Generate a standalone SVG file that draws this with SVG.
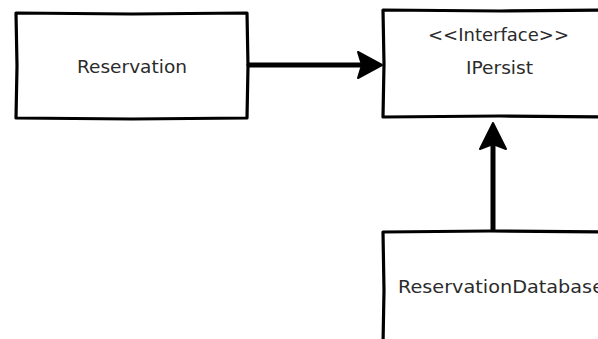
<svg xmlns="http://www.w3.org/2000/svg" width="598" height="339" viewBox="0 0 598 339">
<style>
.box{fill:#fff;stroke:#000;stroke-width:3.2;stroke-linejoin:round}
.lbl{font-family:"DejaVu Sans",sans-serif;font-size:17px;fill:#2b2b2b}
.edge{stroke:#000;stroke-width:5;fill:none;stroke-linecap:round}
.head{fill:#000;stroke:#000;stroke-width:2;stroke-linejoin:round}
</style>
<rect width="598" height="339" fill="#fff"/>
<g id="reservation">
<path class="box" d="M16,13 L132,14 L247,13 L248,66 L247,118 L132,119 L16,118 L17,66 Z"/>
<text class="lbl" x="77" y="73" textLength="110" lengthAdjust="spacingAndGlyphs">Reservation</text>
</g>
<g id="ipersist">
<path class="box" d="M383,10 L500,11 L602,10 L602,117 L500,116 L383,117 L384,64 Z"/>
<text class="lbl" x="428" y="41" textLength="141" lengthAdjust="spacingAndGlyphs">&lt;&lt;Interface&gt;&gt;</text>
<text class="lbl" x="466" y="74" textLength="67" lengthAdjust="spacingAndGlyphs">IPersist</text>
</g>
<g id="reservationdatabase">
<path class="box" d="M383,232 L490,231 L602,232 L602,345 L383,345 L384,290 Z"/>
<text class="lbl" x="398" y="293" textLength="206" lengthAdjust="spacingAndGlyphs">ReservationDatabase</text>
</g>
<g id="connectors">
<path class="edge" d="M249,65 L362,65"/>
<path class="head" d="M382,65 L358,52 L362,65 L358,78 Z"/>
<path class="edge" d="M493,229 L493,145"/>
<path class="head" d="M493,123 L480,149 L493,144 L506,149 Z"/>
</g>
</svg>
